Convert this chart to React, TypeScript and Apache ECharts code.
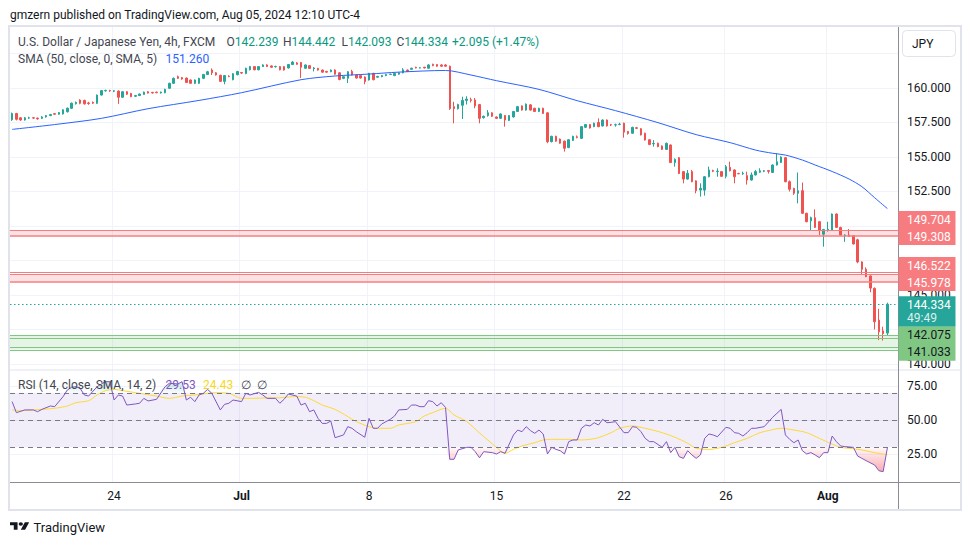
import React, { useEffect, useRef } from 'react';
import * as echarts from 'echarts';

const FONT = "Roboto, 'Noto Sans', Arial, sans-serif";
const UP = '#26A69A';
const DOWN = '#EF5350';
const GRID = '#F0F3FA';
const TXT = '#131722';
const LEG = '#434651';

// ---- time axis ----
const slotCount = 209; // 207 bars + 2 empty slots at the right edge
const tickIndex = [24, 54, 84, 114, 144, 168, 192];
const tickLabels = ['24', 'Jul', '8', '15', '22', '26', 'Aug'];
const priceGridTicks = [140, 142.5, 145, 147.5, 150, 152.5, 155, 157.5, 160, 162.5];
const priceLabelTicks = [140, 145, 152.5, 155, 157.5, 160];
const rsiTicks = [25, 50, 75];

// ---- USDJPY 4h candles: [open, close, low, high] ----
const ohlc = [
  [157.70, 158.15, 157.62, 158.22], [158.15, 157.73, 157.65, 158.20], [157.84, 157.68, 157.62, 157.90], [157.68, 157.84, 157.64, 157.90],
  [157.82, 157.84, 157.76, 157.92], [157.84, 157.82, 157.75, 157.90], [157.82, 157.77, 157.70, 157.86], [157.80, 157.90, 157.76, 157.96],
  [157.90, 158.00, 157.86, 158.04], [158.00, 158.08, 157.96, 158.12], [158.14, 158.10, 158.04, 158.18], [158.10, 158.22, 158.06, 158.26],
  [158.12, 158.42, 158.08, 158.46], [158.28, 158.54, 158.22, 158.58], [158.53, 158.90, 158.48, 158.95], [158.86, 158.96, 158.80, 159.02],
  [159.13, 158.89, 158.82, 159.18], [159.10, 158.85, 158.80, 159.15], [158.92, 158.88, 158.78, 159.00], [158.96, 158.90, 158.84, 159.02],
  [158.89, 159.49, 158.85, 159.52], [159.49, 159.81, 159.45, 159.86], [159.79, 159.82, 159.74, 159.88], [159.82, 159.79, 159.72, 159.87],
  [159.77, 159.80, 159.70, 159.85], [159.78, 159.33, 158.85, 159.82], [159.33, 159.73, 159.28, 159.78], [159.73, 159.55, 159.50, 159.77],
  [159.60, 159.37, 159.33, 159.65], [159.40, 159.45, 159.35, 159.50], [159.45, 159.56, 159.42, 159.60], [159.53, 159.70, 159.50, 159.74],
  [159.73, 159.63, 159.60, 159.77], [159.68, 159.64, 159.60, 159.72], [159.70, 159.66, 159.62, 159.74], [159.64, 159.70, 159.60, 159.74],
  [159.65, 159.90, 159.62, 159.95], [159.98, 160.34, 159.94, 160.38], [160.34, 160.70, 160.30, 160.76], [160.82, 160.70, 160.66, 160.90],
  [160.75, 160.65, 160.60, 160.80], [160.72, 160.40, 160.36, 160.76], [160.58, 160.34, 160.30, 160.62], [160.34, 160.58, 160.28, 160.62],
  [160.34, 160.70, 160.30, 160.74], [160.70, 160.98, 160.64, 161.02], [160.98, 161.18, 160.94, 161.24], [161.30, 161.10, 160.94, 161.42],
  [161.10, 160.95, 160.90, 161.15], [160.92, 160.48, 160.44, 160.96], [160.48, 160.90, 160.27, 160.94], [160.86, 160.83, 160.78, 160.92],
  [160.60, 161.04, 160.56, 161.08], [160.96, 161.20, 160.92, 161.24], [161.12, 161.08, 161.02, 161.16], [161.05, 161.43, 161.00, 161.47],
  [161.32, 161.55, 161.28, 161.60], [161.55, 161.32, 161.28, 161.58], [161.32, 161.55, 161.28, 161.58], [161.55, 161.67, 161.52, 161.72],
  [161.67, 161.56, 161.52, 161.72], [161.60, 161.50, 161.46, 161.64], [161.54, 161.56, 161.48, 161.62], [161.55, 161.32, 161.28, 161.58],
  [161.55, 161.30, 161.26, 161.58], [161.45, 161.70, 161.42, 161.74], [161.70, 161.88, 161.66, 161.95], [161.82, 161.72, 161.68, 161.88],
  [161.85, 161.50, 160.72, 161.88], [161.43, 161.67, 161.40, 161.70], [161.62, 161.42, 161.38, 161.66], [161.40, 161.45, 161.20, 161.52],
  [161.42, 161.30, 161.26, 161.46], [161.30, 161.15, 161.10, 161.34], [161.20, 161.15, 161.10, 161.24], [161.18, 161.30, 161.14, 161.34],
  [161.30, 161.00, 160.96, 161.36], [161.10, 160.62, 160.56, 161.14], [160.70, 160.82, 160.64, 160.86], [160.70, 161.18, 160.36, 161.22],
  [161.20, 160.94, 160.90, 161.32], [160.94, 160.72, 160.68, 160.98], [160.90, 160.72, 160.68, 160.94], [160.80, 160.46, 160.27, 160.84],
  [160.58, 161.06, 160.54, 161.10], [161.06, 160.60, 160.56, 161.10], [160.78, 160.84, 160.74, 160.88], [160.82, 160.90, 160.78, 160.94],
  [160.90, 160.98, 160.86, 161.02], [160.98, 161.00, 160.94, 161.04], [160.90, 161.06, 160.86, 161.10], [161.00, 161.10, 160.96, 161.14],
  [161.10, 161.32, 161.06, 161.44], [161.30, 161.20, 161.16, 161.34], [161.35, 161.43, 161.32, 161.47], [161.50, 161.45, 161.42, 161.54],
  [161.45, 161.46, 161.42, 161.50], [161.50, 161.45, 161.42, 161.54], [161.43, 161.67, 161.40, 161.72], [161.72, 161.62, 161.58, 161.76],
  [161.70, 161.58, 161.54, 161.74], [161.67, 161.58, 161.54, 161.72], [161.67, 161.58, 161.54, 161.72], [161.58, 158.50, 158.41, 161.62],
  [158.65, 158.50, 157.44, 159.00], [158.50, 158.80, 158.44, 158.86], [158.75, 159.10, 157.75, 159.37], [159.10, 159.20, 158.80, 159.40],
  [159.15, 159.10, 158.95, 159.30], [159.13, 158.70, 158.53, 159.27], [158.80, 157.80, 157.44, 158.84], [157.85, 157.95, 157.78, 158.00],
  [158.00, 158.20, 157.92, 158.40], [158.20, 157.95, 157.90, 158.24], [157.90, 157.80, 157.76, 157.94], [157.80, 158.12, 157.76, 158.16],
  [158.00, 157.68, 157.20, 158.04], [157.65, 158.00, 157.60, 158.04], [157.90, 158.30, 157.86, 158.34], [158.30, 158.65, 158.26, 158.70],
  [158.70, 158.40, 158.36, 158.74], [158.40, 158.83, 158.36, 158.88], [158.78, 158.40, 158.36, 158.82], [158.53, 158.30, 158.26, 158.57],
  [158.30, 158.53, 158.26, 158.57], [158.53, 158.16, 158.12, 158.57], [158.20, 156.11, 156.00, 158.24], [156.11, 156.50, 156.06, 156.54],
  [156.50, 156.15, 156.10, 156.54], [156.30, 156.00, 155.96, 156.34], [156.15, 155.63, 155.39, 156.19], [155.68, 156.25, 155.64, 156.29],
  [156.20, 156.50, 156.16, 156.54], [156.46, 156.42, 156.35, 156.56], [156.35, 157.20, 156.31, 157.24], [157.15, 157.35, 157.11, 157.39],
  [157.35, 157.10, 157.06, 157.39], [157.20, 157.45, 157.16, 157.49], [157.50, 157.20, 157.16, 157.80], [157.25, 157.68, 157.21, 157.72],
  [157.68, 157.25, 157.21, 157.72], [157.34, 157.32, 157.24, 157.40], [157.32, 157.34, 157.20, 157.42], [157.36, 157.38, 157.30, 157.48],
  [157.45, 156.80, 156.40, 157.49], [156.85, 156.70, 156.62, 156.89], [156.72, 157.15, 156.68, 157.19], [157.12, 157.08, 157.02, 157.18],
  [157.05, 156.60, 156.56, 157.09], [156.72, 156.23, 156.19, 156.76], [156.25, 155.90, 155.86, 156.29], [155.95, 155.98, 155.75, 156.23],
  [156.00, 155.75, 155.71, 156.04], [155.80, 155.55, 155.51, 155.84], [155.55, 155.99, 155.51, 156.05], [155.87, 154.60, 154.56, 155.91],
  [154.60, 154.83, 154.30, 154.90], [154.95, 153.80, 153.76, 154.99], [153.94, 153.40, 153.09, 153.98], [153.40, 153.82, 153.36, 154.06],
  [153.94, 153.21, 153.17, 154.06], [153.27, 152.56, 152.37, 153.31], [152.60, 152.73, 152.13, 153.09], [152.60, 153.57, 152.20, 153.61],
  [153.57, 154.06, 153.53, 154.30], [154.02, 153.96, 153.90, 154.08], [153.94, 153.98, 153.57, 154.18], [153.94, 153.60, 153.56, 153.98],
  [153.60, 154.30, 153.45, 154.42], [154.25, 154.00, 153.96, 154.66], [154.06, 153.57, 153.09, 154.10], [153.80, 153.78, 153.76, 153.86],
  [153.78, 153.82, 153.70, 153.94], [153.65, 153.33, 153.00, 153.94], [153.33, 153.70, 153.29, 153.88], [153.70, 153.94, 153.66, 154.06],
  [153.90, 154.00, 153.85, 154.18], [153.97, 154.00, 153.90, 154.06], [154.02, 153.96, 153.80, 154.06], [153.88, 154.42, 153.84, 154.46],
  [154.42, 154.66, 154.38, 155.27], [154.60, 155.00, 154.56, 155.05], [154.95, 153.21, 153.17, 154.99], [153.21, 152.66, 152.50, 153.30],
  [152.73, 152.37, 152.25, 152.77], [152.37, 152.56, 151.64, 153.88], [152.56, 150.92, 150.88, 153.15], [150.92, 150.31, 150.27, 150.96],
  [150.37, 150.60, 149.71, 150.68], [150.60, 149.90, 149.86, 151.20], [150.31, 149.71, 149.35, 150.35], [149.40, 149.75, 148.50, 149.79],
  [149.71, 149.76, 149.59, 150.31], [149.71, 150.87, 149.67, 150.91], [150.87, 149.90, 149.86, 150.91], [149.90, 149.35, 149.31, 149.94],
  [149.30, 149.35, 148.85, 149.40], [149.35, 149.25, 149.21, 149.78], [149.30, 148.70, 148.66, 149.34], [149.00, 147.40, 147.30, 149.08],
  [147.40, 146.86, 146.50, 147.44], [146.86, 146.33, 146.29, 147.00], [146.38, 145.50, 145.20, 146.42], [145.48, 143.06, 142.50, 145.55],
  [143.18, 142.33, 141.73, 144.00], [142.40, 142.20, 141.70, 142.70], [142.239, 144.334, 142.093, 144.442],
];

// SMA(50, close, smoothed SMA 5) read at [bar index, value]
const smaLine = [
  [0, 157.0], [10, 157.35], [21, 157.8], [32, 158.5], [44, 159.1], [54, 159.66], [68, 160.6], [76, 160.87],
  [84, 161.01], [91, 161.15], [102, 161.27], [108, 160.94], [114, 160.53], [124, 159.9], [133, 159.08],
  [142, 158.36], [152, 157.49], [161, 156.62], [169, 156.04], [175, 155.5], [179, 155.27], [182, 155.14],
  [186, 154.78], [189, 154.42], [193, 153.95], [197, 153.4], [200, 152.85], [203, 152.05], [206, 151.26],
];

// RSI(14) read at [bar index, value]
const rsiLine = [
  [0, 63.5], [1, 55.4], [3, 57.4], [5, 57.4], [6, 56.1], [7, 57.8], [9, 60.3], [10, 59.8], [12, 67.2], [13, 72.1],
  [14, 74.0], [15, 74.5], [16, 73.3], [17, 68.4], [18, 67.6], [20, 74.5], [21, 76.5], [22, 78.2], [23, 78.2], [24, 64.7],
  [25, 68.4], [26, 67.6], [27, 61.0], [29, 61.8], [30, 62.3], [31, 65.9], [32, 64.0], [34, 65.2], [36, 74.5], [37, 77.0],
  [39, 76.5], [40, 78.2], [41, 64.7], [42, 66.7], [43, 63.5], [44, 68.4], [45, 69.6], [46, 72.5], [47, 69.6], [49, 57.4],
  [50, 61.5], [51, 62.3], [52, 64.7], [54, 63.5], [55, 69.6], [56, 68.4], [58, 70.3], [59, 68.4], [60, 65.9], [62, 65.9],
  [63, 62.3], [64, 65.2], [65, 69.1], [67, 67.6], [68, 61.0], [69, 62.3], [70, 56.1], [71, 57.4], [72, 51.2], [73, 47.5],
  [74, 47.5], [75, 49.3], [76, 37.0], [78, 39.0], [79, 45.1], [80, 43.9], [81, 41.4], [83, 37.3], [84, 51.2], [85, 43.9],
  [86, 43.9], [87, 47.1], [89, 50.5], [90, 52.9], [91, 57.4], [93, 57.8], [94, 61.0], [95, 61.0], [96, 59.8], [97, 59.8],
  [98, 64.2], [99, 63.5], [100, 60.3], [101, 62.7], [102, 59.3], [103, 21.1], [104, 21.1], [105, 28.0], [107, 29.9], [108, 29.9],
  [109, 26.7], [110, 22.2], [111, 26.7], [113, 26.0], [114, 25.0], [115, 26.7], [116, 25.5], [118, 39.0], [119, 42.6], [120, 41.4],
  [121, 45.1], [122, 42.2], [123, 40.2], [124, 42.6], [125, 39.7], [126, 25.0], [127, 29.9], [128, 28.4], [129, 27.4], [130, 25.0],
  [131, 34.1], [132, 35.3], [133, 35.3], [134, 43.9], [135, 46.3], [136, 45.6], [137, 48.0], [138, 46.3], [139, 50.5], [140, 48.0],
  [141, 48.3], [142, 48.8], [144, 40.7], [145, 40.7], [146, 45.1], [147, 44.6], [148, 41.4], [149, 36.5], [150, 34.1], [151, 34.1],
  [153, 29.9], [154, 34.1], [155, 26.0], [156, 29.9], [157, 23.0], [158, 21.8], [159, 27.4], [160, 24.3], [161, 21.8], [162, 24.3],
  [163, 36.5], [164, 39.7], [165, 39.0], [166, 37.7], [168, 44.6], [169, 43.9], [170, 40.7], [171, 40.2], [172, 38.2], [173, 40.7],
  [174, 43.9], [175, 43.9], [177, 45.1], [179, 52.0], [180, 54.9], [181, 57.8], [182, 39.0], [183, 35.8], [184, 33.3], [185, 35.3],
  [186, 27.4], [187, 25.0], [188, 26.0], [189, 24.3], [190, 22.3], [191, 26.0], [192, 26.0], [193, 38.2], [194, 34.1], [195, 30.9],
  [196, 30.4], [198, 29.9], [199, 23.5], [200, 21.8], [201, 20.1], [203, 16.9], [204, 12.7], [205, 12.0], [206, 29.53],
];

// RSI-based SMA(14) read at [bar index, value]
const rsiMa = [
  [0, 57.4], [2, 56.9], [5, 57.4], [7, 57.8], [10, 58.6], [13, 60.3], [15, 62.7], [18, 64.2], [20, 68.4], [22, 71.6],
  [24, 72.5], [26, 71.6], [29, 70.1], [31, 69.1], [34, 67.6], [37, 65.9], [40, 67.6], [43, 68.4], [46, 69.6], [48, 70.1],
  [51, 69.6], [54, 65.9], [57, 65.9], [60, 66.3], [63, 66.3], [66, 67.2], [69, 66.7], [71, 64.2], [73, 61.0], [76, 57.8],
  [79, 52.5], [81, 48.8], [84, 45.1], [86, 43.9], [89, 43.9], [91, 46.3], [95, 48.8], [97, 52.9], [99, 55.4], [102, 58.6],
  [104, 53.7], [107, 48.8], [110, 40.5], [114, 29.9], [116, 25.5], [118, 28.4], [120, 30.9], [123, 33.3], [125, 35.3], [127, 35.8],
  [131, 35.8], [134, 35.3], [136, 35.8], [138, 37.0], [141, 40.7], [143, 43.9], [146, 45.6], [149, 43.9], [153, 40.7], [156, 37.3],
  [159, 32.9], [161, 29.2], [164, 28.4], [167, 29.9], [170, 33.3], [173, 36.5], [176, 40.7], [178, 42.2], [181, 43.9], [184, 42.6],
  [187, 40.7], [190, 36.5], [193, 32.3], [195, 29.9], [197, 29.2], [200, 28.0], [203, 26.0], [206, 24.43],
];

// drawn support / resistance zones
const resistanceZones = [[149.704, 149.308], [146.522, 145.978]];
const resistanceExtraLines = [146.64];
const supportZone = [142.075, 141.033];
const supportExtraLines = [141.86, 141.21];
const lastPrice = 144.334;
const countdown = '49:49';

const LOGO_PATH = 'M14 22H7V11H0V4h14v18zM28 22h-8l7.5-18h8L28 22zM24 8a4 4 0 1 1-8 0a4 4 0 0 1 8 0z';

function buildOption() {
  const cats = Array.from({ length: slotCount }, (_, i) => String(i));
  const tickSet = new Set(tickIndex);
  const labelFor = (i: number) => {
    const k = tickIndex.indexOf(i);
    if (k < 0) return '';
    const t = tickLabels[k];
    return /^[A-Za-z]/.test(t) ? `{m|${t}}` : t;
  };
  const xBase = {
    type: 'category',
    data: cats,
    boundaryGap: true,
    axisLine: { show: false },
    axisTick: { show: false },
    splitLine: { show: true, interval: (i: number) => tickSet.has(i), lineStyle: { color: GRID, width: 1 } },
  };
  const redLine = '#F77C80';
  const greenLine = '#81C784';
  const zoneAreas: any[] = [];
  const zoneLines: any[] = [];
  resistanceZones.forEach(([a, b]) => {
    zoneAreas.push([{ yAxis: a, itemStyle: { color: 'rgba(247,124,128,0.22)' } }, { yAxis: b }]);
    zoneLines.push({ yAxis: a, lineStyle: { color: redLine, width: 1, type: 'solid' } });
    zoneLines.push({ yAxis: b, lineStyle: { color: redLine, width: 1.5, type: 'solid' } });
  });
  resistanceExtraLines.forEach((v) => zoneLines.push({ yAxis: v, lineStyle: { color: redLine, width: 1, type: 'solid' } }));
  zoneAreas.push([{ yAxis: supportZone[0], itemStyle: { color: 'rgba(129,199,132,0.2)' } }, { yAxis: supportZone[1] }]);
  zoneLines.push({ yAxis: supportZone[0], lineStyle: { color: greenLine, width: 1, type: 'solid' } });
  zoneLines.push({ yAxis: supportZone[1], lineStyle: { color: greenLine, width: 1, type: 'solid' } });
  supportExtraLines.forEach((v) => zoneLines.push({ yAxis: v, lineStyle: { color: greenLine, width: 1, type: 'solid' } }));
  zoneLines.push({ yAxis: lastPrice, lineStyle: { color: UP, width: 1, type: [1.5, 2.5] } });

  return {
    animation: false,
    backgroundColor: '#ffffff',
    textStyle: { fontFamily: FONT },
    grid: [
      { left: 10, right: 72, top: 27, height: 343 },
      { left: 10, right: 72, top: 370, height: 112 },
    ],
    xAxis: [
      { ...xBase, gridIndex: 0, axisLabel: { show: false } },
      {
        ...xBase,
        gridIndex: 1,
        axisLabel: {
          show: true,
          interval: (i: number) => tickSet.has(i),
          formatter: (_v: string, i: number) => labelFor(i),
          margin: 8,
          color: TXT,
          fontSize: 12,
          fontFamily: FONT,
          rich: { m: { fontWeight: 'bold', color: TXT, fontSize: 12, fontFamily: FONT } },
        },
      },
    ],
    yAxis: [
      {
        type: 'value',
        gridIndex: 0,
        position: 'right',
        min: 139.565,
        max: 164.42,
        axisLine: { show: false },
        axisTick: { show: false, customValues: priceGridTicks },
        axisLabel: { customValues: priceLabelTicks, formatter: (v: number) => v.toFixed(3), margin: 9, color: TXT, fontSize: 12, fontFamily: FONT },
        splitLine: { show: true, lineStyle: { color: GRID, width: 1 } },
      },
      {
        type: 'value',
        gridIndex: 1,
        position: 'right',
        min: 4.41,
        max: 86.76,
        axisLine: { show: false },
        axisTick: { show: false, customValues: rsiTicks },
        axisLabel: { customValues: rsiTicks, formatter: (v: number) => v.toFixed(2), margin: 9, color: TXT, fontSize: 12, fontFamily: FONT },
        splitLine: { show: true, lineStyle: { color: GRID, width: 1 } },
      },
    ],
    series: [
      {
        type: 'candlestick',
        name: 'USDJPY',
        xAxisIndex: 0,
        yAxisIndex: 0,
        data: ohlc,
        barWidth: 2,
        z: 3,
        itemStyle: { color: UP, color0: DOWN, borderColor: UP, borderColor0: DOWN, borderWidth: 1 },
        markArea: { silent: true, data: zoneAreas },
        markLine: { silent: true, symbol: 'none', label: { show: false }, data: zoneLines },
      },
      {
        type: 'line',
        name: 'SMA',
        xAxisIndex: 0,
        yAxisIndex: 0,
        data: smaLine,
        symbol: 'none',
        smooth: 0.3,
        z: 4,
        lineStyle: { color: '#2962FF', width: 1 },
      },
      {
        type: 'line',
        name: 'oversold',
        xAxisIndex: 1,
        yAxisIndex: 1,
        data: rsiLine.map(([i, v]) => [i, Math.min(v, 30)]),
        symbol: 'none',
        z: 2,
        lineStyle: { width: 0, opacity: 0 },
        areaStyle: {
          origin: 30,
          color: new echarts.graphic.LinearGradient(0, 0, 0, 1, [
            { offset: 0, color: 'rgba(242,54,69,0.04)' },
            { offset: 1, color: 'rgba(242,54,69,0.6)' },
          ]),
        },
      },
      {
        type: 'line',
        name: 'overbought',
        xAxisIndex: 1,
        yAxisIndex: 1,
        data: rsiLine.map(([i, v]) => [i, Math.max(v, 70)]),
        symbol: 'none',
        z: 2,
        lineStyle: { width: 0, opacity: 0 },
        areaStyle: {
          origin: 70,
          color: new echarts.graphic.LinearGradient(0, 0, 0, 1, [
            { offset: 0, color: 'rgba(8,153,129,0.35)' },
            { offset: 1, color: 'rgba(8,153,129,0.04)' },
          ]),
        },
      },
      {
        type: 'line',
        name: 'RSI MA',
        xAxisIndex: 1,
        yAxisIndex: 1,
        data: rsiMa,
        symbol: 'none',
        smooth: 0.3,
        z: 4,
        lineStyle: { color: '#FDD835', width: 1 },
      },
      {
        type: 'line',
        name: 'RSI',
        xAxisIndex: 1,
        yAxisIndex: 1,
        data: rsiLine,
        symbol: 'none',
        z: 5,
        lineStyle: { color: '#7E57C2', width: 1 },
        markArea: { silent: true, itemStyle: { color: 'rgba(126,87,194,0.1)' }, data: [[{ yAxis: 70 }, { yAxis: 30 }]] },
        markLine: {
          silent: true,
          symbol: 'none',
          label: { show: false },
          lineStyle: { color: '#787B86', type: [5, 4], width: 1 },
          data: [{ yAxis: 70 }, { yAxis: 50 }, { yAxis: 30 }],
        },
      },
    ],
  };
}

function txt(x: number, y: number, text: string, fill: string, fontSize = 12, extra: any = {}) {
  return {
    type: 'text',
    x,
    y,
    z: 100,
    silent: true,
    style: { text, fill, fontSize, fontFamily: FONT, align: 'left', verticalAlign: 'middle', ...extra },
  };
}

function staticGraphics() {
  const last = ohlc[ohlc.length - 1];
  const sma = smaLine[smaLine.length - 1][1];
  const rsiLast = rsiLine[rsiLine.length - 1][1];
  const maLast = rsiMa[rsiMa.length - 1][1];
  const teal = '#089981';
  const kv = { k: { fill: LEG, fontSize: 12, fontFamily: FONT }, v: { fill: teal, fontSize: 12, fontFamily: FONT } };
  return [
    { type: 'rect', z: 90, silent: true, shape: { x: 9, y: 26, width: 952, height: 484 }, style: { fill: 'none', stroke: '#E0E3EB', lineWidth: 2 } },
    { type: 'line', z: 90, silent: true, shape: { x1: 10, y1: 370, x2: 960, y2: 370 }, style: { stroke: '#E0E3EB', lineWidth: 1 } },
    { type: 'line', z: 90, silent: true, shape: { x1: 10, y1: 482.5, x2: 960, y2: 482.5 }, style: { stroke: '#8A8D97', lineWidth: 1 } },
    { type: 'line', z: 90, silent: true, shape: { x1: 898.5, y1: 27, x2: 898.5, y2: 509 }, style: { stroke: '#8A8D97', lineWidth: 1 } },
    { type: 'rect', z: 95, silent: true, shape: { x: 902.5, y: 30.5, width: 53, height: 26, r: 4 }, style: { fill: '#ffffff', stroke: '#E0E3EB', lineWidth: 1 } },
    txt(912, 44, 'JPY', TXT, 12),
    txt(10, 15, 'gmzern published on TradingView.com, Aug 05, 2024 12:10 UTC-4', TXT, 12),
    txt(18, 42, 'U.S. Dollar / Japanese Yen, 4h, FXCM', LEG, 12),
    txt(226.5, 42, `{k|O}{v|${last[0].toFixed(3)}}`, LEG, 12, { rich: kv }),
    txt(283, 42, `{k|H}{v|${last[3].toFixed(3)}}`, LEG, 12, { rich: kv }),
    txt(341.5, 42, `{k|L}{v|${last[2].toFixed(3)}}`, LEG, 12, { rich: kv }),
    txt(396.5, 42, `{k|C}{v|${last[1].toFixed(3)}}`, LEG, 12, { rich: kv }),
    txt(452, 42, '+2.095 (+1.47%)', teal, 12),
    txt(18, 59, 'SMA (50, close, 0, SMA, 5)', LEG, 12),
    txt(165.5, 59, sma.toFixed(3), '#2962FF', 12),
    txt(18, 385, 'RSI (14, close, SMA, 14, 2)', LEG, 12),
    txt(165.5, 385, rsiLast.toFixed(2), '#7E57C2', 12),
    txt(203, 385, maLast.toFixed(2), '#F9D71C', 12),
    txt(240.5, 385, '∅', LEG, 12),
    txt(256.5, 385, '∅', LEG, 12),
    { type: 'tvlogo', z: 100, silent: true, x: 10, y: 520.6, scaleX: 0.54, scaleY: 0.42, style: { fill: TXT } },
    txt(33.5, 527, 'TradingView', TXT, 13),
  ];
}

function axisBoxes(chart: any) {
  const py = (v: number) => chart.convertToPixel({ yAxisIndex: 0 }, v) as number;
  const lh = 17;
  const bx = 898.5;
  const bw = 57;
  const tx = 907;
  const out: any[] = [];
  const red = '#F77C80';
  const green = '#81C784';
  resistanceZones.forEach(([a, b]) => {
    const yb = py(b) + 1;
    const ya = Math.min(py(a), yb - lh);
    out.push({ type: 'rect', z: 98, silent: true, shape: { x: bx, y: ya - 8.5, width: bw, height: yb - ya + 17 }, style: { fill: red } });
    out.push(txt(tx, ya, a.toFixed(3), '#ffffff', 12));
    out.push(txt(tx, yb, b.toFixed(3), '#ffffff', 12));
  });
  const y1 = py(lastPrice);
  out.push({ type: 'rect', z: 98, silent: true, shape: { x: bx, y: y1 - 8, width: bw, height: 30.5 }, style: { fill: UP } });
  out.push(txt(tx, y1 + 1, lastPrice.toFixed(3), '#ffffff', 12));
  out.push(txt(tx, y1 + 14, countdown, 'rgba(255,255,255,0.85)', 12));
  const ga = py(supportZone[0]);
  const gb = Math.max(py(supportZone[1]), ga + lh);
  out.push({ type: 'rect', z: 98, silent: true, shape: { x: bx, y: ga - 8.5, width: bw, height: gb - ga + 17 }, style: { fill: green } });
  out.push(txt(tx, ga, supportZone[0].toFixed(3), TXT, 12));
  out.push(txt(tx, gb, supportZone[1].toFixed(3), TXT, 12));
  return out;
}

export default function App() {
  const ref = useRef<HTMLDivElement>(null);
  useEffect(() => {
    if (!ref.current) return;
    try {
      echarts.graphic.registerShape('tvlogo', echarts.graphic.extendPath(LOGO_PATH, {}) as any);
    } catch (e) {
      /* already registered */
    }
    const chart = echarts.init(ref.current, null, { renderer: 'svg' });
    chart.setOption(buildOption() as any);
    chart.setOption({ graphic: { elements: [...staticGraphics(), ...axisBoxes(chart)] } } as any);
    return () => chart.dispose();
  }, []);
  return <div ref={ref} style={{ position: 'absolute', left: 0, top: 0, width: 970, height: 545 }} />;
}
